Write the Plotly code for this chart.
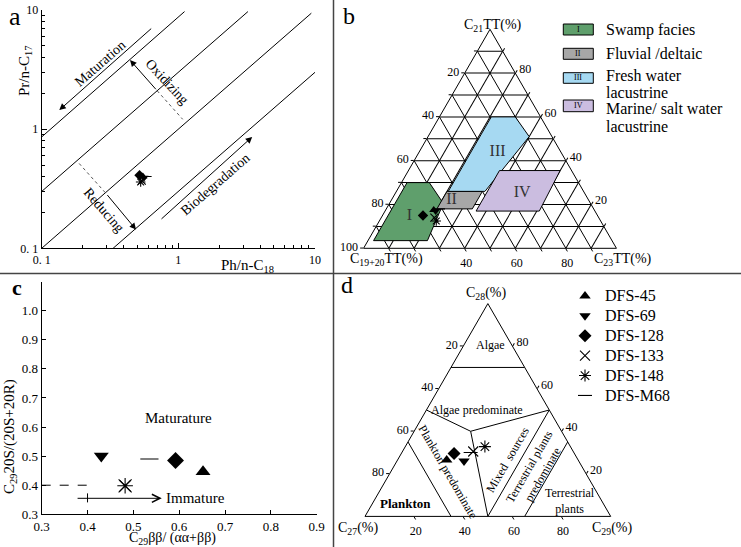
import math
import plotly.graph_objects as go

W, H = 741, 547
FONT = "Liberation Serif"


def fx(p):
    return p / W


def fy(p):
    return 1 - p / H


# ---------------- data ----------------
samples = ["DFS-45", "DFS-69", "DFS-128", "DFS-133", "DFS-148", "DFS-M68"]
symbols = ["triangle-up", "triangle-down", "diamond", "x-thin-open", "asterisk-open", "line-ew-open"]

# panel a : Pr/n-C17 vs Ph/n-C18
a_ph = [0.55, 0.56, 0.52, 0.54, 0.53, 0.58]
a_pr = [0.40, 0.39, 0.41, 0.37, 0.36, 0.40]
a_lines_x = [[0.1, 1.11], [0.1, 3.23], [0.1, 9.4], [0.333, 10.0]]
a_lines_y = [[0.86, 9.7], [0.3, 9.7], [0.1, 9.4], [0.1, 3.0]]
a_dots_x = [[0.70, 1.076], [0.188, 0.296]]
a_dots_y = [[2.10, 1.21], [0.515, 0.288]]
arrow_tail_x = [0.649, 0.734, 0.70, 0.296]
arrow_tail_y = [7.16, 0.172, 2.10, 0.288]
arrow_head_x = [0.1345, 3.47, 0.443, 0.49]
arrow_head_y = [1.445, 0.861, 3.80, 0.1435]
a_label_text = ["Maturation", "Oxidizing", "Reducing", "Biodegradation"]
a_label_x = [0.267, 0.822, 0.287, 1.85]
a_label_y = [3.57, 2.50, 0.208, 0.345]
a_label_angle = [-41, 47, 49, -41]

# panel b : ternary C21TT (top), C19+20TT (left), C23TT (right)
b_c21 = [17.5, 17.0, 15.0, 14.0, 12.5, 18.0]
b_c1920 = [63.5, 63.0, 69.0, 65.0, 65.0, 61.0]
b_c23 = [19.0, 20.0, 16.0, 21.0, 22.5, 21.0]
facies_names = ["Swamp facies", "Fluvial /deltaic", "Fresh water lacustrine", "Marine/ salt water lacustrine"]
facies_roman = ["I", "II", "III", "IV"]
facies_colors = ["#5f9f6c", "#a7a7a7", "#a6d9f2", "#cbbde0"]
fI_c21 = [30, 30, 20.5, 3.5, 3.5]
fI_c1920 = [67.8, 59.0, 58.2, 73.0, 94.3]
fI_c23 = [2.2, 11.0, 21.3, 23.5, 2.2]
fII_c21 = [26, 26, 18, 18]
fII_c1920 = [54, 40, 48, 62]
fII_c23 = [20, 34, 34, 20]
fIII_c21 = [60, 60, 51, 26, 26]
fIII_c1920 = [19.5, 10, 9, 39, 53.5]
fIII_c23 = [20.5, 30, 40, 35, 20.5]
fIV_c21 = [35.5, 35.5, 17, 17]
fIV_c1920 = [28.5, 4.5, 22, 47]
fIV_c23 = [36, 60, 61, 36]
froman_c21 = [14.8, 22.0, 44.0, 25.4]
froman_c1920 = [74.5, 54.2, 25.0, 24.6]
froman_c23 = [10.7, 23.8, 31.0, 50.0]

# panel c : C29 20S/(20S+20R) vs C29 bb/(aa+bb)
c_x = [0.652, 0.430, 0.592, 0.482, 0.482, 0.535]
c_y = [0.446, 0.500, 0.485, 0.398, 0.398, 0.490]
c_box_x = [0.3, 0.4, 0.4]
c_box_y = [0.4, 0.4, 0.3]

# panel d : ternary C28 (top), C27 (left), C29 (right)
d_c28 = [26.5, 26.0, 29.5, 30.5, 32.8, 30.0]
d_c27 = [53.5, 46.7, 49.0, 40.7, 34.8, 42.0]
d_c29 = [20.0, 27.3, 21.5, 28.8, 32.4, 28.0]
d_line_c28 = [[70, 70], [50, 40, 50], [40, 0], [35, 0], [50, 0], [35, 0]]
d_line_c27 = [[30, 0], [50, 37, 0], [37, 50], [65, 65], [0, 50], [0, 35]]
d_line_c29 = [[0, 30], [0, 23, 50], [23, 50], [0, 35], [50, 50], [65, 65]]

fig = go.Figure()

# ---------------- panel a ----------------
for lx, ly in zip(a_lines_x, a_lines_y):
    fig.add_trace(go.Scatter(x=lx, y=ly, mode="lines", line=dict(color="black", width=1),
                             xaxis="x", yaxis="y", showlegend=False, hoverinfo="skip", cliponaxis=False))
for lx, ly in zip(a_dots_x, a_dots_y):
    fig.add_trace(go.Scatter(x=lx, y=ly, mode="lines", line=dict(color="#555", width=1, dash="dot"),
                             xaxis="x", yaxis="y", showlegend=False, hoverinfo="skip"))


def mk(sym, size):
    is_open = sym.endswith("open")
    return dict(symbol=sym, size=size, color="black",
                line=dict(color="black", width=1.1 if is_open else 0))


for i, s in enumerate(samples):
    fig.add_trace(go.Scatter(x=[a_ph[i]], y=[a_pr[i]], mode="markers", marker=mk(symbols[i], 8),
                             xaxis="x", yaxis="y", showlegend=False, name=s))

# ---------------- panel c ----------------
fig.add_trace(go.Scatter(x=c_box_x, y=c_box_y, mode="lines", line=dict(color="black", width=1, dash="dash"),
                         xaxis="x2", yaxis="y2", showlegend=False, hoverinfo="skip"))
for i, s in enumerate(samples):
    fig.add_trace(go.Scatter(x=[c_x[i]], y=[c_y[i]], mode="markers", marker=mk(symbols[i], 13),
                             xaxis="x2", yaxis="y2", showlegend=False, name=s))

# ---------------- panel b ----------------
fac_a = [fI_c21, fII_c21, fIII_c21, fIV_c21]
fac_b = [fI_c1920, fII_c1920, fIII_c1920, fIV_c1920]
fac_c = [fI_c23, fII_c23, fIII_c23, fIV_c23]
for k in range(4):
    fig.add_trace(go.Scatterternary(a=fac_a[k] + fac_a[k][:1], b=fac_b[k] + fac_b[k][:1], c=fac_c[k] + fac_c[k][:1],
                                    mode="lines", fill="toself", fillcolor=facies_colors[k],
                                    line=dict(color="black", width=1), subplot="ternary",
                                    showlegend=False, name=facies_names[k], hoverinfo="skip"))
fig.add_trace(go.Scatterternary(a=froman_c21, b=froman_c1920, c=froman_c23, mode="text", text=facies_roman,
                                textfont=dict(family=FONT, size=16, color="#333"), subplot="ternary",
                                showlegend=False, hoverinfo="skip"))
for i, s in enumerate(samples):
    fig.add_trace(go.Scatterternary(a=[b_c21[i]], b=[b_c1920[i]], c=[b_c23[i]], mode="markers",
                                    marker=mk(symbols[i], 8), subplot="ternary", showlegend=False, name=s))

# ---------------- panel d ----------------
for la, lb, lc in zip(d_line_c28, d_line_c27, d_line_c29):
    fig.add_trace(go.Scatterternary(a=la, b=lb, c=lc, mode="lines", line=dict(color="black", width=1),
                                    subplot="ternary2", showlegend=False, hoverinfo="skip"))
for i, s in enumerate(samples):
    fig.add_trace(go.Scatterternary(a=[d_c28[i]], b=[d_c27[i]], c=[d_c29[i]], mode="markers",
                                    marker=mk(symbols[i], 10), subplot="ternary2", showlegend=True,
                                    name='<span style="font-family:Liberation Serif;font-size:16px">' + s + '</span>'))


# ---------------- ternary axes ----------------
def tern_axis(vals, shown, grid):
    return dict(min=0, tickmode="array", tickvals=vals,
                ticktext=[str(100 - v) if (100 - v) in shown else "" for v in vals],
                ticks="outside", ticklen=3, tickwidth=1, tickcolor="black",
                showline=True, linecolor="black", linewidth=1,
                showgrid=grid, gridcolor="black", gridwidth=0.8,
                tickfont=dict(family=FONT, size=12, color="black"), title=dict(text=""))


grid10 = [0, 10, 20, 30, 40, 50, 60, 70, 80, 90]
ternary_b = dict(sum=100, bgcolor="white",
                 domain=dict(x=[fx(363.3), fx(616.7)], y=[fy(248.3), fy(29.3)]),
                 aaxis=tern_axis(grid10, [20, 40, 60, 80, 100], True),
                 baxis=tern_axis(grid10[1:], [40, 60, 80], True),
                 caxis=tern_axis(grid10[1:], [20, 40, 60, 80], True))
ternary_d = dict(sum=100, bgcolor="white",
                 domain=dict(x=[fx(365), fx(610.7)], y=[fy(516.7), fy(303.3)]),
                 aaxis=tern_axis([20, 40, 60, 80], [20, 40, 60, 80], False),
                 baxis=tern_axis([20, 40, 60, 80], [20, 40, 60, 80], False),
                 caxis=tern_axis([20, 40, 60, 80], [20, 40, 60, 80], False))

minor_log = [0.2, 0.3, 0.4, 0.5, 0.6, 0.7, 0.8, 0.9, 2, 3, 4, 5, 6, 7, 8, 9]
tickfont_a = dict(family=FONT, size=12, color="black")
tickfont_c = dict(family=FONT, size=13, color="black")

fig.update_layout(
    width=W, height=H, autosize=False, margin=dict(l=0, r=0, t=0, b=0, pad=0, autoexpand=False),
    paper_bgcolor="white", plot_bgcolor="white",
    font=dict(family=FONT, color="black"),
    xaxis=dict(type="log", range=[-1, 1], domain=[fx(41.7), fx(315)], anchor="y",
               tickmode="array", tickvals=[0.1, 1, 10], ticktext=["0. 1", "1", "10"],
               ticks="inside", ticklen=5, tickcolor="black", showline=True, linecolor="black", linewidth=1,
               showgrid=False, zeroline=False, tickfont=tickfont_a,
               minor=dict(tickvals=minor_log, ticks="inside", ticklen=3, tickcolor="black", showgrid=False)),
    yaxis=dict(type="log", range=[-1, 1], domain=[fy(248.3), fy(10)], anchor="x",
               tickmode="array", tickvals=[0.1, 1, 10], ticktext=["0. 1", "1", "10"],
               ticks="inside", ticklen=5, tickcolor="black", showline=True, linecolor="black", linewidth=1,
               showgrid=False, zeroline=False, tickfont=tickfont_a,
               minor=dict(tickvals=minor_log, ticks="inside", ticklen=3, tickcolor="black", showgrid=False)),
    xaxis2=dict(range=[0.3, 0.9], domain=[fx(41.7), fx(316.7)], anchor="y2",
                tickmode="array", tickvals=[0.3, 0.4, 0.5, 0.6, 0.7, 0.8, 0.9],
                ticktext=["0.3", "0.4", "0.5", "0.6", "0.7", "0.8", "0.9"],
                ticks="inside", ticklen=4, tickcolor="black", showline=True, linecolor="black", linewidth=1,
                showgrid=False, zeroline=False, tickfont=tickfont_c),
    yaxis2=dict(range=[0.3, 1.1], domain=[fy(514.3), fy(281.6)], anchor="x2",
                tickmode="array", tickvals=[0.3, 0.4, 0.5, 0.6, 0.7, 0.8, 0.9, 1.0, 1.1],
                ticktext=["0.3", "0.4", "0.5", "0.6", "0.7", "0.8", "0.9", "1.0", ""],
                ticks="inside", ticklen=4, tickcolor="black", showline=True, linecolor="black", linewidth=1,
                showgrid=False, zeroline=False, tickfont=tickfont_c),
    ternary=ternary_b,
    ternary2=ternary_d,
    legend=dict(x=fx(565), y=fy(281), xanchor="left", yanchor="top", bgcolor="rgba(0,0,0,0)",
                font=dict(family=FONT, size=13, color="black"), tracegroupgap=0, itemsizing="trace"),
)

ann = []


def txt(x, y, t, size=14, angle=0, xanchor="center", bold=False, xref="paper", yref="paper"):
    ann.append(dict(x=x, y=y, xref=xref, yref=yref, text=t, showarrow=False, textangle=angle,
                    xanchor=xanchor, yanchor="middle",
                    font=dict(family=FONT, size=size, color="black", weight="bold" if bold else "normal")))


# panel letters
txt(fx(15), fy(17), "a", 26)
txt(fx(349), fy(16), "b", 24)
txt(fx(17), fy(287), "c", 22, bold=True)
txt(fx(347), fy(285), "d", 24)

# panel a texts
for t, x, y, ang in zip(a_label_text, a_label_x, a_label_y, a_label_angle):
    txt(math.log10(x), math.log10(y), t, 14, ang, xref="x", yref="y")
for tx, ty, hx, hy in zip(arrow_tail_x, arrow_tail_y, arrow_head_x, arrow_head_y):
    ann.append(dict(x=math.log10(hx), y=math.log10(hy), ax=math.log10(tx), ay=math.log10(ty),
                    xref="x", yref="y", axref="x", ayref="y", text="", showarrow=True,
                    arrowhead=2, arrowsize=1.3, arrowwidth=1, arrowcolor="black", standoff=0))
txt(fx(25), fy(71), "Pr/n-C<sub>17</sub>", 15, -90)
txt(fx(247), fy(266), "Ph/n-C<sub>18</sub>", 15)

# panel c texts
txt(0.598, 0.63, "Maturature", 15, xref="x2", yref="y2")
txt(0.566, 0.355, "Immature", 15, xanchor="left", xref="x2", yref="y2")
ann.append(dict(x=0.562, y=0.355, ax=0.375, ay=0.355, xref="x2", yref="y2", axref="x2", ayref="y2",
                text="", showarrow=True, arrowhead=5, arrowsize=1.6, arrowwidth=1,
                arrowcolor="black", standoff=0))
txt(fx(10), fy(437), "C<sub>29</sub>20S/(20S+20R)", 15, -90)
txt(fx(172), fy(538.5), "C<sub>29</sub>ββ/ (αα+ββ)", 14)

# panel b texts
txt(fx(493), fy(25), "C<sub>21</sub>TT(%)", 14)
txt(fx(386), fy(259), "C<sub>19+20</sub>TT(%)", 14)
txt(fx(623), fy(259), "C<sub>23</sub>TT(%)", 14)
box_top = [24, 48.3, 72.7, 100]
box_bot = [35, 59.3, 83.3, 111.7]
shapes = []
for k in range(4):
    shapes.append(dict(type="rect", xref="paper", yref="paper", x0=fx(563.3), x1=fx(593.3),
                       y0=fy(box_bot[k]), y1=fy(box_top[k]), fillcolor=facies_colors[k],
                       line=dict(color="black", width=1)))
    txt(fx(578.3), fy((box_top[k] + box_bot[k]) / 2), facies_roman[k], 8)
legend_lines = [("Swamp facies", 29.5), ("Fluvial /deltaic", 54), ("Fresh water", 75.5), ("lacustrine", 92.5),
                ("Marine/ salt water", 108.5), ("lacustrine", 126)]
for t, y in legend_lines:
    txt(fx(603.5), fy(y), t, 16, xanchor="left")

# panel d texts
txt(fx(486), fy(293), "C<sub>28</sub>(%)", 14)
txt(fx(358), fy(528.5), "C<sub>27</sub>(%)", 14)
txt(fx(612), fy(528.5), "C<sub>29</sub>(%)", 14)
txt(fx(490), fy(345), "Algae", 12)
txt(fx(477), fy(409.5), "Algae predominate", 12)
txt(fx(448), fy(472), "Plankton predominate", 12, 60)
txt(fx(507.5), fy(460), "Mixed  sources", 12, -60)
txt(fx(536), fy(471), "Terrestrial plants<br>predominate", 12, -60)
txt(fx(406), fy(503), "Plankton", 13, bold=True)
txt(fx(570), fy(501), "Terrestrial<br>plants", 12)

# separators
shapes.append(dict(type="line", xref="paper", yref="paper", x0=fx(333.5), x1=fx(333.5), y0=0, y1=1,
                   line=dict(color="#444", width=1.5)))
shapes.append(dict(type="line", xref="paper", yref="paper", x0=0, x1=1, y0=fy(273.5), y1=fy(273.5),
                   line=dict(color="#444", width=1.5)))

fig.update_layout(annotations=ann, shapes=shapes)
fig.write_html("out.html", config={"displayModeBar": False},
               post_script="document.body.style.margin='0px';")
